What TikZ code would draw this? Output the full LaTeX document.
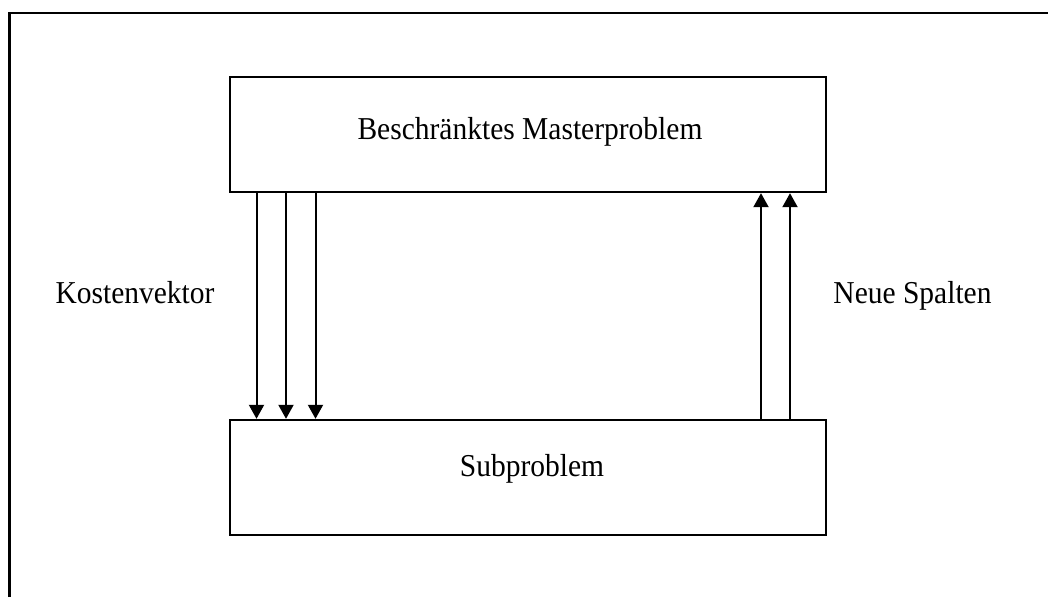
\documentclass[tikz,border=0pt]{standalone}
\usepackage{fontspec}
\setmainfont{Liberation Serif}
\usetikzlibrary{arrows.meta,calc}
\newcommand{\tall}[1]{\scalebox{1}[1.08]{#1}}
\begin{document}
\begin{tikzpicture}[x=1pt,y=-1pt,
  box/.style={draw,line width=2.4pt,minimum width=596pt,minimum height=115pt,inner sep=0pt},
  lbl/.style={font=\fontsize{29.5}{34}\selectfont,inner sep=0pt,anchor=base},
  conn/.style={line width=2pt,-{Triangle[length=14pt,width=15pt]}}]
\useasboundingbox (0,0) rectangle (1048,597);
\draw[line width=2.4pt] (9.5,597) -- (9.5,13) -- (1048,13);
\node[box] (m) at (528,134.5) {};
\node[box] (s) at (528,477.5) {};
\node[lbl] (mt) at (530,139.5) {\tall{Beschränktes Masterproblem}};
\node[lbl] (st) at (532,476.5) {\tall{Subproblem}};
\node[lbl] (k) at (135,303) {\tall{Kostenvektor}};
\node[lbl] (n) at (912.5,303) {\tall{Neue Spalten}};
\foreach \x in {256.5,286,315.5}
  \draw[conn] (m.south -| \x,0) -- (s.north -| \x,0);
\foreach \x in {761,790}
  \draw[conn] (s.north -| \x,0) -- (m.south -| \x,0);
\end{tikzpicture}
\end{document}
